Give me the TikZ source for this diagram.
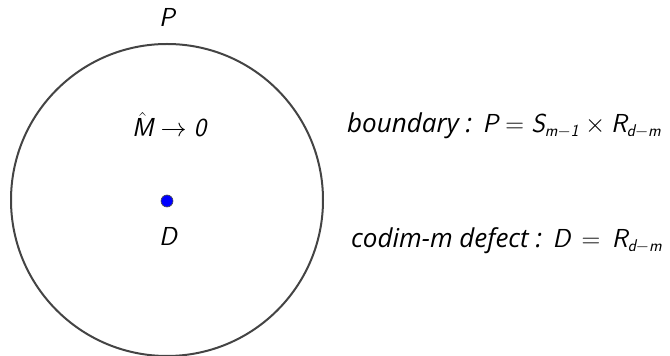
\RequirePackage{fix-cm}
\documentclass[tikz,border=0pt]{standalone}
\usepackage{amsmath}
\usepackage{fontspec}
\newfontfamily\txtfont{Open Sans}
\newcommand\sv[1]{\text{\sffamily\slshape #1}}
\newcommand\sbs[1]{\text{\fontsize{17}{17}\selectfont\sffamily\slshape #1}}
\definecolor{ringgray}{HTML}{444444}
\definecolor{dotblue}{HTML}{0000FF}
\tikzset{
  lbl/.style={inner sep=0pt, font=\fontsize{26}{30}\selectfont\sffamily\slshape},
  tlbl/.style={inner sep=0pt, font=\fontsize{26}{30}\selectfont},
  ring/.style={draw=ringgray, line width=2pt},
  defect/.style={circle, fill=dotblue, draw=black!70, line width=0.6pt, minimum size=12pt, inner sep=0pt}
}
\newcommand\tx[1]{{\fontsize{26}{30}\selectfont\txtfont\itshape #1}}
\begin{document}
\begin{tikzpicture}[x=1pt,y=1pt]
\useasboundingbox (0,0) rectangle (670,356);
\node[ring, circle, minimum size=312pt, inner sep=0pt] (ring) at (167,156) {};
\node[lbl, anchor=base] (P) at (167,329) {P};
\node[lbl, anchor=base] (M) at (169,219) {$\hat{\sv{M}}\rightarrow\sv{0}$};
\node[defect] (dot) at (167,155) {};
\node[lbl, anchor=base] (D) at (168,110) {D};
\node[tlbl, anchor=base west] (bnd) at (347,223) {\tx{boundary :} $\sv{P}=\sv{S}_{\sbs{m$-$1}}\times\sv{R}_{\sbs{d$-$m}}$};
\node[tlbl, anchor=base west] (cod) at (351,108) {\tx{codim-m defect :} $\sv{D}\,=\,\sv{R}_{\sbs{d$-$m}}$};
\end{tikzpicture}
\end{document}
